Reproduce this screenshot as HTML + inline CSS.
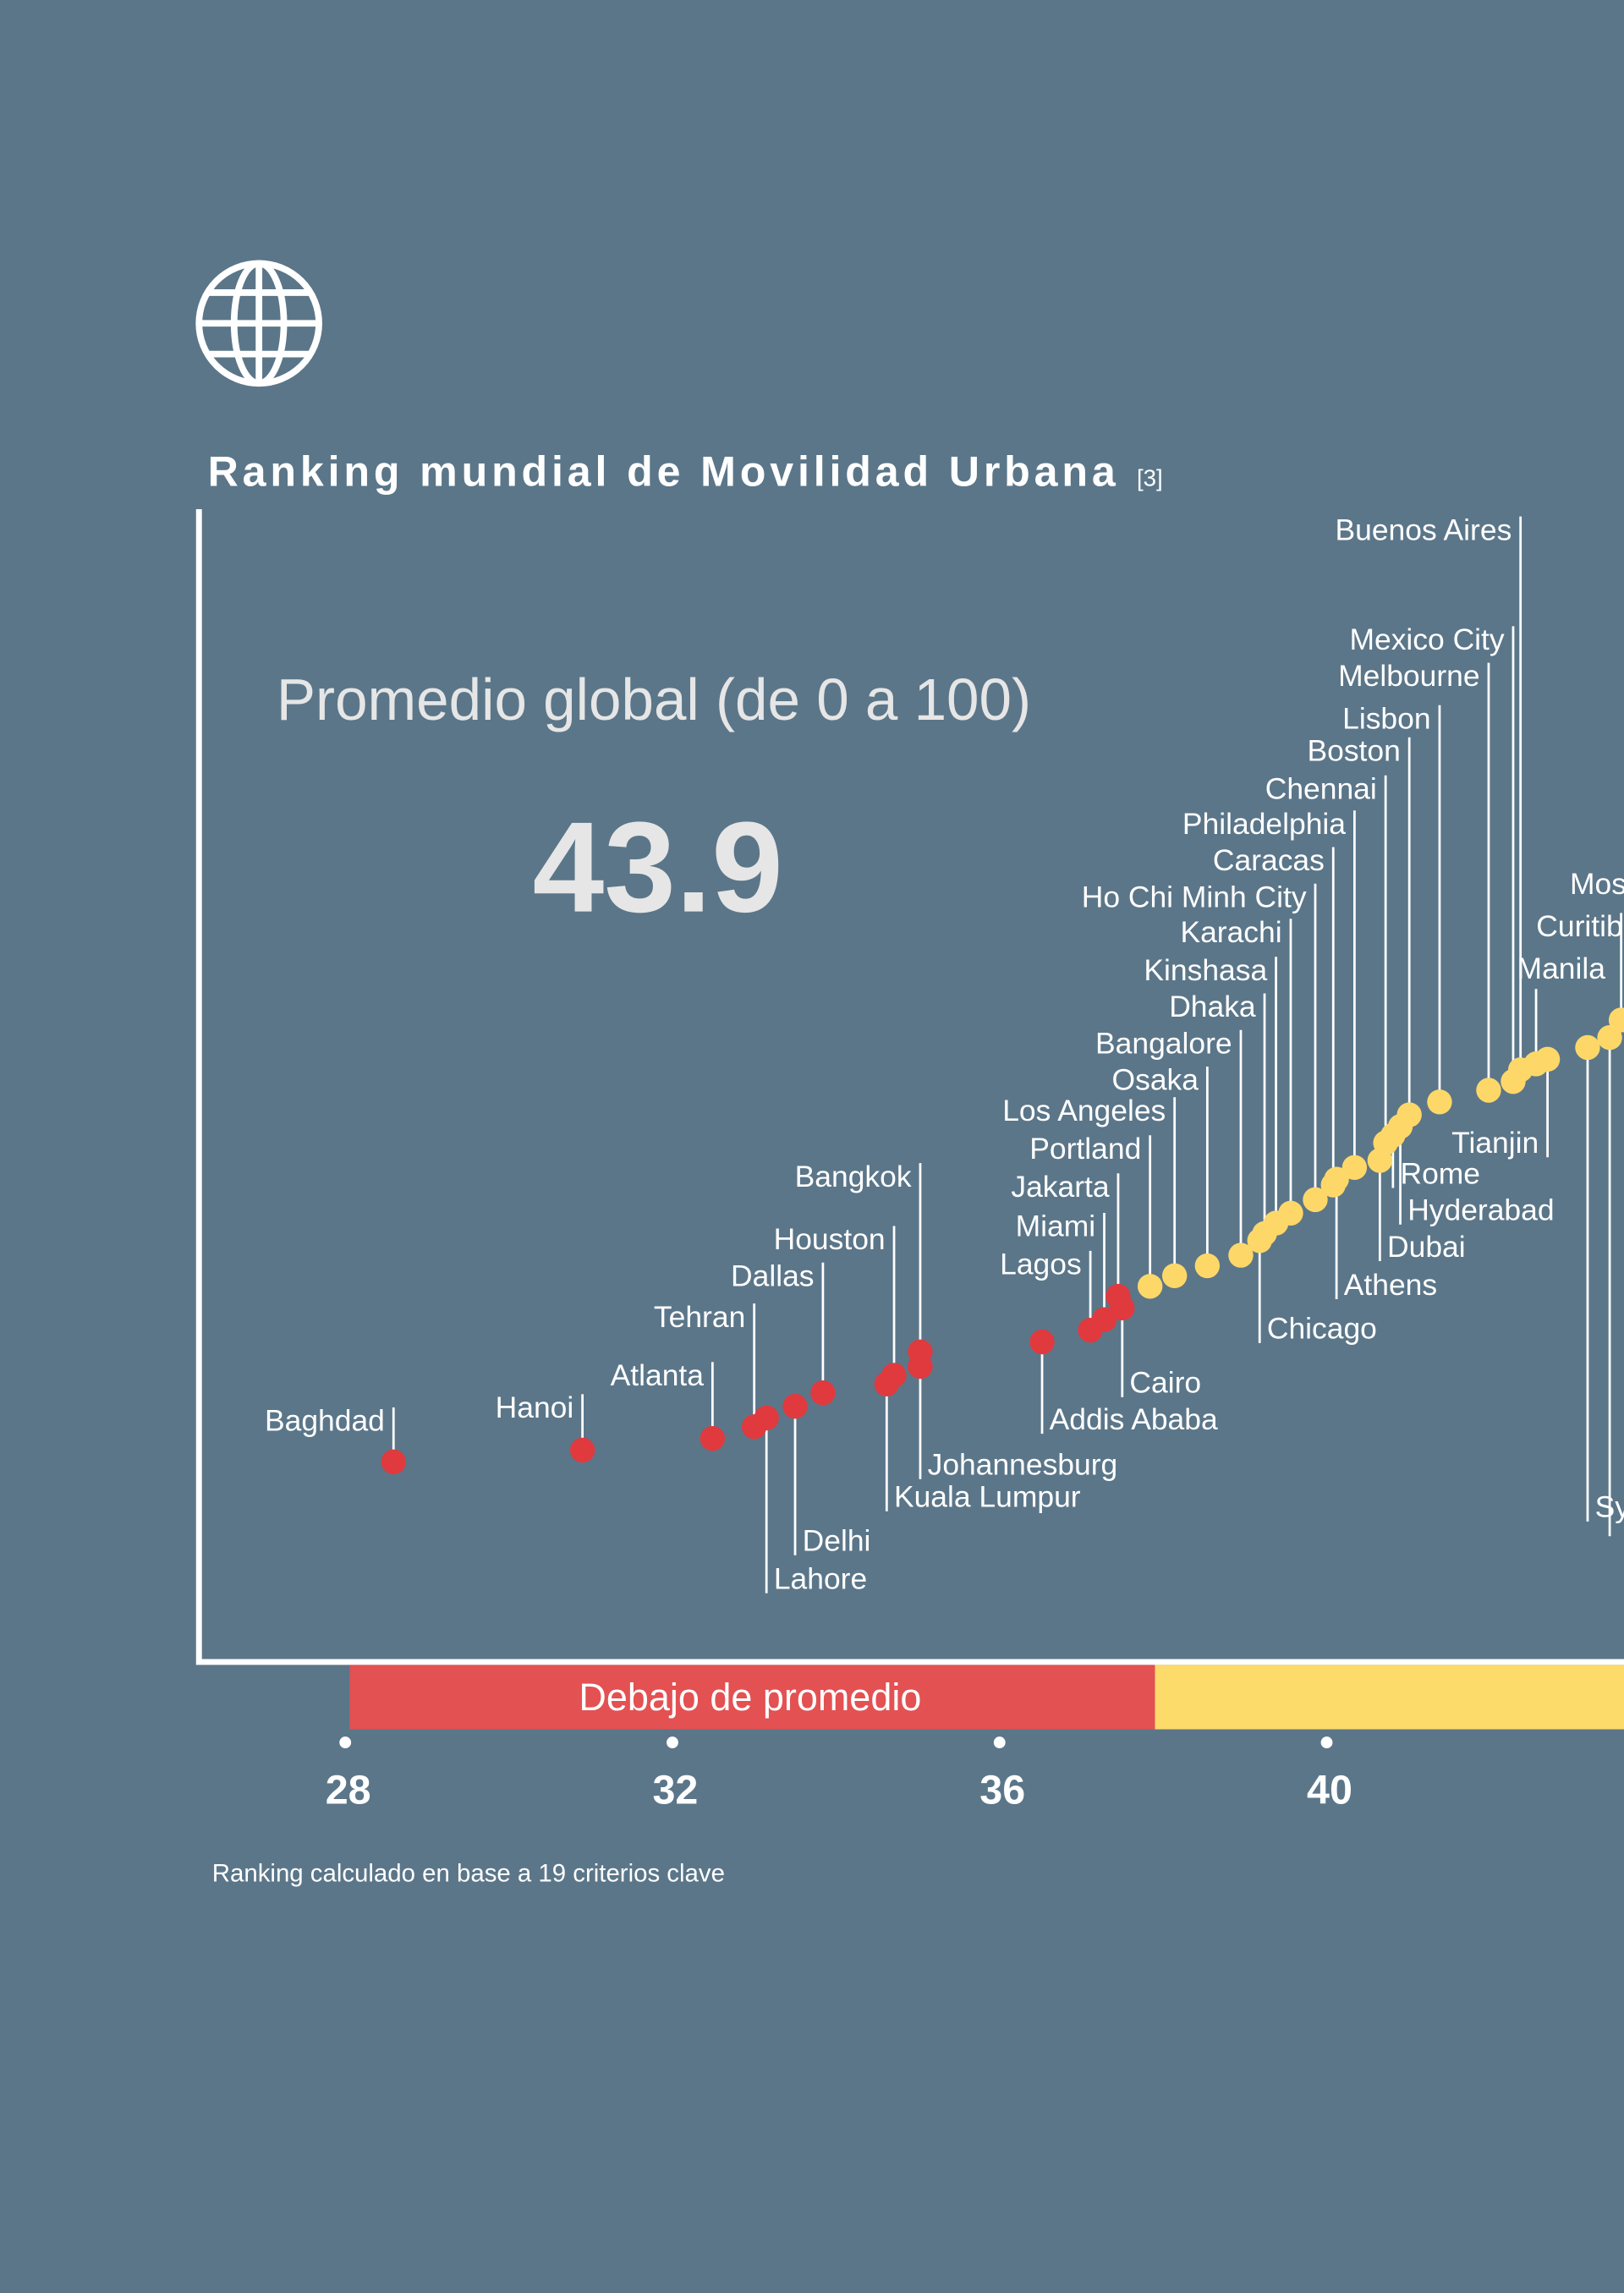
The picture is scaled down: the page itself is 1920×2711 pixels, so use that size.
<!DOCTYPE html>
<html><head><meta charset="utf-8">
<style>
html,body{margin:0;padding:0;background:#5b7689;}
svg{display:block;}
text{font-family:"Liberation Sans",sans-serif;}
</style></head>
<body>
<svg id="chart" width="1920" height="2711" viewBox="0 0 1110 1567.3" preserveAspectRatio="none" xmlns="http://www.w3.org/2000/svg">
<rect x="0" y="0" width="1110" height="1567.3" fill="#5b7689"/>
<g fill="none" stroke="#ffffff" stroke-width="4.5">
  <circle cx="177" cy="221" r="41"/>
  <ellipse cx="177" cy="221" rx="17" ry="41"/>
  <line x1="177" y1="180" x2="177" y2="262"/>
  <line x1="136" y1="221" x2="218" y2="221"/>
  <line x1="142" y1="200" x2="212" y2="200"/>
  <line x1="142" y1="242" x2="212" y2="242"/>
</g>
<text x="142" y="332" font-size="29" font-weight="bold" fill="#ffffff" letter-spacing="2.8">Ranking mundial de Movilidad Urbana</text>
<text x="777" y="332" font-size="16" fill="#ffffff">[3]</text>
<text x="189" y="492" font-size="40" fill="#e6e6e6">Promedio global  (de 0 a 100)</text>
<text x="364" y="623" font-size="88" font-weight="bold" fill="#e6e6e6">43.9</text>
<path d="M136 348 L136 1136 L1110 1136" fill="none" stroke="#ffffff" stroke-width="4"/>
<g id="bands"></g>
<g id="axis"></g>
<g id="marks"></g>
<text x="145" y="1286" font-size="17" fill="#ffffff">Ranking calculado en base a 19 criterios clave</text>
</svg>
<script>
const cities = ["Baghdad","Hanoi","Atlanta","Tehran","Lahore","Delhi","Dallas","Kuala Lumpur","Houston","Johannesburg","Bangkok","Addis Ababa","Lagos","Miami","Cairo","Jakarta","Portland","Los Angeles","Osaka","Bangalore","Chicago","Dhaka","Kinshasa","Karachi","Ho Chi Minh City","Caracas","Athens","Philadelphia","Dubai","Chennai","Rome","Hyderabad","Boston","Lisbon","Melbourne","Mexico City","Buenos Aires","Manila","Tianjin","Sydney","","Curitiba"];
const scores = [28.59,30.90,32.49,33.0,33.15,33.50,33.84,34.62,34.71,35.03,35.03,36.52,37.11,37.28,37.50,37.45,37.84,38.14,38.54,38.95,39.18,39.24,39.38,39.56,39.86,40.08,40.12,40.34,40.65,40.72,40.81,40.90,41.01,41.38,41.98,42.28,42.37,42.56,42.70,43.19,43.46,43.60];
const levels = [34.2,36.2,38.2,40.2,41.7,43.7,46.0,47.5,49.0,50.5,53.0,54.7,56.7,58.5,60.5,62.5,64.2,66.0,67.7,69.5,72.0,73.2,75.0,76.7,79.0,81.5,82.5,84.5,85.7,88.7,90.0,91.5,93.5,95.7,97.7,99.2,101.2,102.2,103.0,105.0,106.7,109.7];
const ticks = [28,32,36,40];
const average = 43.9;
const breakValue = 37.9;
const colorCutoff = 37.7;

// layout (not data): label side / anchor and label vertical position
const labelSide = ["a","a","a","a","b","b","a","b","a","b","a","b","a","a","b","a","a","a","a","a","b","a","a","a","a","a","b","a","b","a","b","b","a","a","a","a","a","am","be","b","b","as"];
const labelY = [971,962,940,900,1079,1053,872,1023,847,1001,804,970,864,838,945,811,785,759,738,713,908,688,663,637,613,588,878,563,852,539,802,827,513,491,462,437,362,662,781,1030,1040,633];

const NS="http://www.w3.org/2000/svg";
const xScale = v => 236 + (v-28)*55.9;
const yScale = l => 1136 - l*4;
function mk(tag, attrs, parent){const e=document.createElementNS(NS,tag);for(const k in attrs)e.setAttribute(k,attrs[k]);parent.appendChild(e);return e;}

const bands=document.getElementById('bands');
const redBar=mk('rect',{x:xScale(28)+3,y:1138,width:xScale(breakValue)-xScale(28)-3,height:44,fill:'#e35152'},bands);


const yelBar=mk('rect',{x:xScale(breakValue),y:1138,width:1110-xScale(breakValue),height:44,fill:'#fddb6a'},bands);


const bandTxt=mk('text',{x:(xScale(28)+xScale(breakValue))/2,y:1169,'font-size':26,fill:'#ffffff','text-anchor':'middle'},bands);
bandTxt.textContent='Debajo de promedio';



const axis=document.getElementById('axis');
ticks.forEach(t=>{
  const d=mk('circle',{cx:xScale(t),cy:1191,r:4,fill:'#ffffff'},axis);
  
  
  const tx=mk('text',{x:xScale(t)+2,y:1233,'font-size':28,'font-weight':'bold',fill:'#ffffff','text-anchor':'middle'},axis);
  tx.textContent=t;
  
  
});

const marks=document.getElementById('marks');
cities.forEach((c,i)=>{
  const x=xScale(scores[i]), y=yScale(levels[i]);
  const side = labelSide[i];
  const above = side[0]==='a';
  const ly = labelY[i];
  const top = side==='am' ? ly+14 : ly-9;
  const ln=mk('line',{x1:x,y1:y,x2:x,y2:above?top:ly+10,stroke:'#ffffff','stroke-width':1.6},marks);
  
  
  if(c){
    let anchorEnd = above;
    if(side==='be') anchorEnd = true;
    if(side==='as' || side==='am') anchorEnd = false;
    const t=mk('text',{x:anchorEnd?x-6:x+5,y:ly+7,'font-size':20.5,fill:'#ffffff','text-anchor':anchorEnd?'end':'start'},marks);
    if(side==='as') t.setAttribute('x', x-58);
    if(side==='am') t.setAttribute('x', x-13);
    t.textContent=c;
    
    
  }
});
cities.forEach((c,i)=>{
  const col = scores[i] < colorCutoff ? '#e03a3e' : '#fdd868';
  const p=mk('circle',{cx:xScale(scores[i]),cy:yScale(levels[i]),r:8.5,fill:col},marks);
  
  
});
const mos=mk('text',{x:1073,y:611,'font-size':20.5,fill:'#ffffff'},marks);
mos.textContent='Moscow';


</script>
</body></html>
